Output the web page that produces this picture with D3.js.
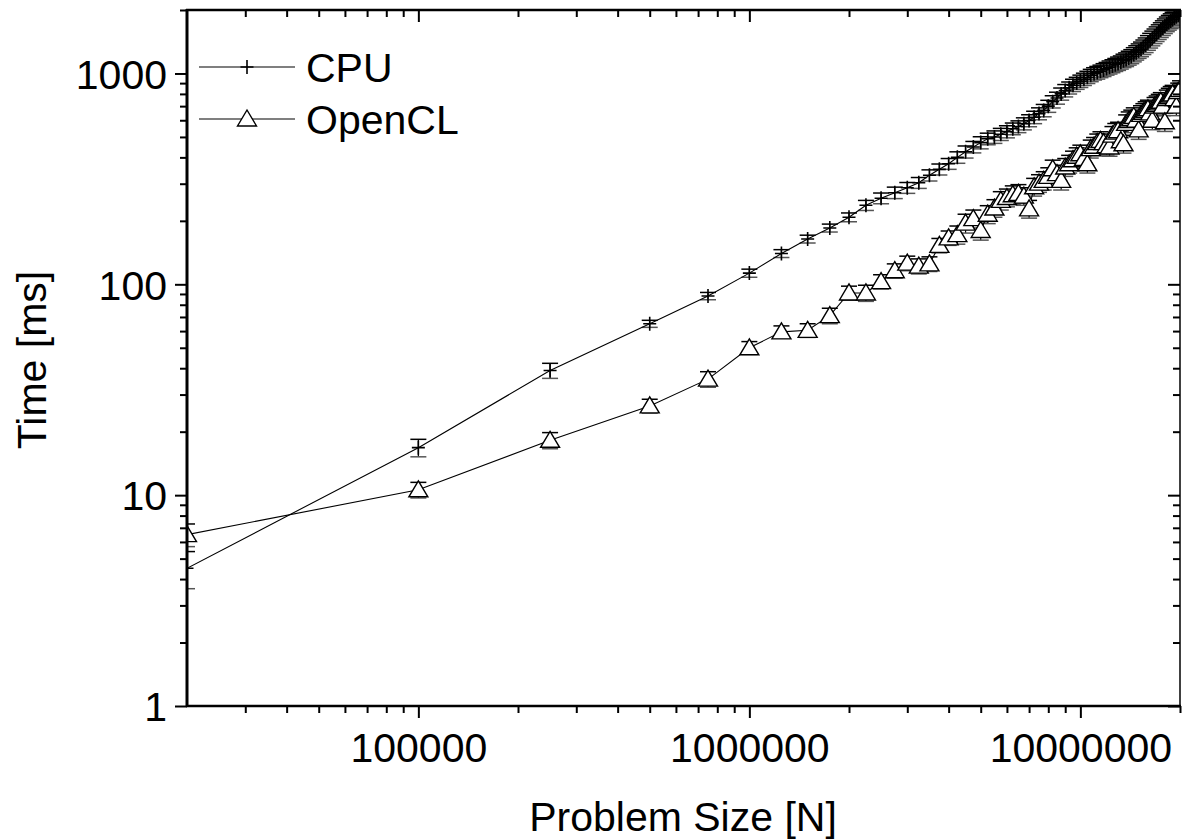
<!DOCTYPE html>
<html>
<head>
<meta charset="utf-8">
<script src="https://cdn.jsdelivr.net/npm/d3@7"></script>
<style>
  html, body { margin: 0; padding: 0; background: #fff; }
  svg { display: block; }
  text { font-family: "Liberation Sans", Arial, sans-serif; fill: #000; }
</style>
</head>
<body>
<svg id="chart" width="1182" height="840"></svg>
<script>
// ---- data ----
const problemSizes = [
  20000, 100000, 250000, 500000, 750000, 1000000, 1250000, 1500000, 1750000, 2000000,
  2250000, 2500000, 2750000, 3000000, 3250000, 3500000, 3750000, 4000000,
  4250000, 4500000, 4750000, 5000000, 5250000, 5500000, 5750000, 6000000,
  6250000, 6500000, 6750000, 7000000, 7250000, 7500000, 7750000, 8000000,
  8250000, 8500000, 8750000, 9000000, 9250000, 9500000, 9750000, 10000000,
  10250000, 10500000, 10750000, 11000000, 11250000, 11500000, 11750000, 12000000,
  12250000, 12500000, 12750000, 13000000, 13250000, 13500000, 13750000, 14000000,
  14250000, 14500000, 14750000, 15000000, 15250000, 15500000, 15750000, 16000000,
  16250000, 16500000, 16750000, 17000000, 17250000, 17500000, 17750000, 18000000,
  18250000, 18500000, 18750000, 19000000, 19250000, 19500000, 19750000, 20000000
];
const cpuTime = [
  4.5, 16.8, 39, 65, 88, 113, 140, 164, 185, 208,
  237, 256, 272, 287, 303, 329, 351, 373,
  400, 425, 448, 470, 490, 500, 515, 530,
  547, 560, 578, 598, 620, 645, 668, 700,
  735, 765, 800, 830, 855, 880, 900, 920,
  940, 960, 980, 998, 1010, 1025, 1040, 1055,
  1070, 1085, 1100, 1115, 1130, 1150, 1165, 1185,
  1205, 1230, 1255, 1280, 1305, 1335, 1365, 1400,
  1435, 1470, 1505, 1540, 1575, 1610, 1645, 1680,
  1715, 1745, 1775, 1805, 1835, 1865, 1895, 1925
];
const cpuErr = [
  0.9, 1.6, 3.2, 2.5, 3.5, 5, 6, 7, 8, 10,
  13, 15, 17, 17, 18, 20, 21, 22,
  25, 28, 28, 31, 31, 34, 34, 35,
  35, 36, 38, 39, 42, 42, 45, 46,
  49, 50, 53, 56, 56, 59, 59, 62,
  63, 64, 66, 67, 70, 70, 73, 73,
  76, 77, 78, 81, 81, 84, 87, 90,
  92, 95, 98, 101, 104, 106, 109, 112,
  115, 118, 120, 123, 126, 129, 132, 134,
  137, 140, 143, 146, 148, 151, 154, 157
];
const openclTime = [
  6.5, 10.6, 18.2, 26.5, 35.5, 50, 59.5, 60.5, 71, 91,
  91, 103, 116, 126, 122, 125, 153, 166,
  172, 195, 205, 180, 215, 230, 250, 258,
  266, 270, 262, 228, 290, 302, 311, 325,
  353, 335, 311, 360, 373, 390, 405, 416,
  395, 373, 440, 452, 470, 481, 470, 455,
  448, 510, 527, 535, 480, 464, 580, 598,
  610, 625, 600, 540, 640, 655, 668, 680,
  650, 600, 700, 712, 725, 738, 700, 590,
  760, 775, 790, 800, 760, 700, 820, 840
];
const openclErr = [
  0.8, 0.9, 1.6, 2, 3, 3.5, 4, 4.5, 6, 7,
  8, 8, 9, 10, 10, 10, 12, 13,
  17, 20, 20, 18, 21, 22, 25, 25,
  27, 27, 25, 22, 28, 29, 31, 32,
  35, 32, 31, 35, 36, 38, 39, 41,
  39, 36, 43, 45, 46, 48, 46, 45,
  43, 50, 52, 52, 48, 45, 56, 59,
  60, 62, 59, 53, 63, 64, 66, 67,
  63, 59, 69, 70, 71, 73, 69, 59,
  74, 76, 77, 78, 74, 69, 80, 83
];
const seriesNames = ["CPU", "OpenCL"];
const xMajorTicks = [100000, 1000000, 10000000];
const xTickLabels = ["100000", "1000000", "10000000"];
const xMinorTicks = [30000, 40000, 50000, 60000, 70000, 80000, 90000,
  200000, 300000, 400000, 500000, 600000, 700000, 800000, 900000,
  2000000, 3000000, 4000000, 5000000, 6000000, 7000000, 8000000, 9000000, 20000000];
const yMajorTicks = [1, 10, 100, 1000];
const yTickLabels = ["1", "10", "100", "1000"];
const yMinorTicks = [2, 3, 4, 5, 6, 7, 8, 9, 20, 30, 40, 50, 60, 70, 80, 90,
  200, 300, 400, 500, 600, 700, 800, 900, 2000];
const xTitle = "Problem Size [N]";
const yTitle = "Time [ms]";

// ---- layout ----
const L = 187, R = 1180, T = 10, B = 706;
const svg = d3.select("#chart");
const x = d3.scaleLog().domain([20000, 20000000]).range([L, R]);
const y = d3.scaleLog().domain([1, 2000]).range([B, T]);

svg.append("defs").append("clipPath").attr("id", "plotclip")
  .append("rect").attr("x", L).attr("y", T).attr("width", R - L).attr("height", B - T);

const cpuData = problemSizes.map((n, i) => ({ n, v: cpuTime[i], e: cpuErr[i] }));
const oclData = problemSizes.map((n, i) => ({ n, v: openclTime[i], e: openclErr[i] }));

const plot = svg.append("g").attr("clip-path", "url(#plotclip)");
const line = d3.line().x(d => x(d.n)).y(d => y(d.v));

function errorBars(data, cls) {
  const g = plot.append("g").attr("class", cls);
  const cap = 8;
  data.forEach(d => {
    const y0 = y(d.v - d.e), y1 = y(d.v + d.e), xx = x(d.n);
    g.append("line").attr("x1", xx).attr("x2", xx).attr("y1", y0).attr("y2", y1)
      .attr("stroke", "#000").attr("stroke-width", 1.2);
    g.append("line").attr("x1", xx - cap).attr("x2", xx + cap).attr("y1", y1).attr("y2", y1)
      .attr("stroke", "#000").attr("stroke-width", 1.5);
    g.append("line").attr("x1", xx - cap).attr("x2", xx + cap).attr("y1", y0).attr("y2", y0)
      .attr("stroke", "#555").attr("stroke-width", 1.5);
  });
}
errorBars(cpuData, "cpu-err");
errorBars(oclData, "ocl-err");

plot.append("path").datum(cpuData).attr("d", line)
  .attr("fill", "none").attr("stroke", "#000").attr("stroke-width", 1.1);
plot.append("path").datum(oclData).attr("d", line)
  .attr("fill", "none").attr("stroke", "#000").attr("stroke-width", 1.1);

const plusPath = "M-6.5,0H6.5M0,-7V7";
const triPath = "M0,-9L9.5,7H-9.5Z";
plot.append("g").selectAll("path").data(cpuData).join("path")
  .attr("transform", d => `translate(${x(d.n)},${y(d.v)})`)
  .attr("d", plusPath).attr("stroke", "#000").attr("stroke-width", 1.6).attr("fill", "none");
plot.append("g").selectAll("path").data(oclData).join("path")
  .attr("transform", d => `translate(${x(d.n)},${y(d.v)})`)
  .attr("d", triPath).attr("stroke", "#000").attr("stroke-width", 1.4).attr("fill", "#fff");

// ---- axes ----
function styleAxis(g) {
  g.select(".domain").remove();
  g.selectAll(".tick line").attr("stroke", "#000").attr("stroke-width", 2);
}
const fs = 41;
// bottom
svg.append("g").attr("transform", `translate(0,${B})`)
  .call(d3.axisBottom(x).tickValues(xMinorTicks).tickSize(7).tickFormat(""))
  .call(styleAxis);
const bx = svg.append("g").attr("transform", `translate(0,${B})`)
  .call(d3.axisBottom(x).tickValues(xMajorTicks).tickSize(12).tickPadding(16)
    .tickFormat((d, i) => xTickLabels[i]))
  .call(styleAxis);
bx.selectAll("text").attr("font-size", fs).attr("font-family", "Liberation Sans, Arial, sans-serif")
  .attr("fill", "#000").attr("dy", null).attr("y", 56);
// top (inward)
svg.append("g").attr("transform", `translate(0,${T})`)
  .call(d3.axisTop(x).tickValues(xMinorTicks).tickSize(-7).tickFormat(""))
  .call(styleAxis);
svg.append("g").attr("transform", `translate(0,${T})`)
  .call(d3.axisTop(x).tickValues(xMajorTicks).tickSize(-12).tickFormat(""))
  .call(styleAxis);
// left
svg.append("g").attr("transform", `translate(${L},0)`)
  .call(d3.axisLeft(y).tickValues(yMinorTicks).tickSize(7).tickFormat(""))
  .call(styleAxis);
const ly = svg.append("g").attr("transform", `translate(${L},0)`)
  .call(d3.axisLeft(y).tickValues(yMajorTicks).tickSize(12).tickPadding(8)
    .tickFormat((d, i) => yTickLabels[i]))
  .call(styleAxis);
ly.selectAll("text").attr("font-size", fs).attr("font-family", "Liberation Sans, Arial, sans-serif")
  .attr("fill", "#000").attr("dy", "0.36em");
// right (inward)
svg.append("g").attr("transform", `translate(${R},0)`)
  .call(d3.axisRight(y).tickValues(yMinorTicks).tickSize(-7).tickFormat(""))
  .call(styleAxis);
svg.append("g").attr("transform", `translate(${R},0)`)
  .call(d3.axisRight(y).tickValues(yMajorTicks).tickSize(-12).tickFormat(""))
  .call(styleAxis);

// frame lines
svg.append("line").attr("x1", L).attr("x2", L).attr("y1", T - 1).attr("y2", B + 1)
  .attr("stroke", "#000").attr("stroke-width", 3);
svg.append("line").attr("x1", L - 1).attr("x2", R + 1).attr("y1", B).attr("y2", B)
  .attr("stroke", "#000").attr("stroke-width", 2.5);
svg.append("line").attr("x1", L - 1).attr("x2", R + 1).attr("y1", T).attr("y2", T)
  .attr("stroke", "#000").attr("stroke-width", 2.5);
svg.append("line").attr("x1", R).attr("x2", R).attr("y1", T).attr("y2", B)
  .attr("stroke", "#000").attr("stroke-width", 1.5);

// titles
svg.append("text").attr("x", 683).attr("y", 831).attr("text-anchor", "middle")
  .attr("font-size", fs).text(xTitle);
svg.append("text").attr("transform", "translate(46,360) rotate(-90)")
  .attr("text-anchor", "middle").attr("font-size", fs).text(yTitle);

// legend
const legend = svg.append("g");
const legendRows = [
  { name: seriesNames[0], y: 67, marker: plusPath, fill: "none", sw: 1.6 },
  { name: seriesNames[1], y: 119, marker: triPath, fill: "#fff", sw: 1.4 }
];
legendRows.forEach(r => {
  legend.append("line").attr("x1", 199).attr("x2", 295).attr("y1", r.y).attr("y2", r.y)
    .attr("stroke", "#000").attr("stroke-width", 1.1);
  legend.append("path").attr("transform", `translate(247,${r.y})`).attr("d", r.marker)
    .attr("stroke", "#000").attr("stroke-width", r.sw).attr("fill", r.fill);
  legend.append("text").attr("x", 306).attr("y", r.y + 15).attr("font-size", fs).text(r.name);
});
</script>
</body>
</html>
